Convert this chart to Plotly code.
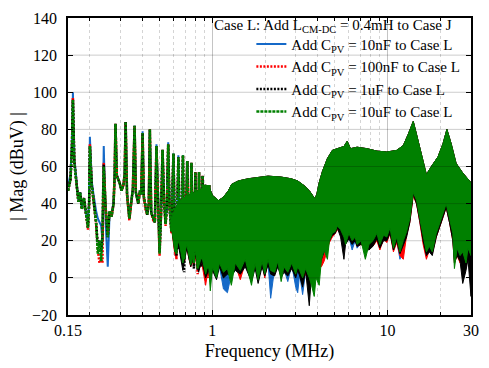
import plotly.graph_objects as go

# ---------------- low-frequency region (discrete switching harmonics), MHz / dBuV
low_freq = [0.150, 0.155, 0.158, 0.160, 0.163, 0.168, 0.172, 0.176, 0.180, 0.185, 0.189, 0.195, 0.198,
            0.200, 0.205, 0.209, 0.213, 0.217, 0.222, 0.227, 0.232, 0.236, 0.238, 0.240, 0.246, 0.253, 0.259, 0.266, 0.273, 0.277,
            0.280, 0.285, 0.296, 0.303, 0.311, 0.316,
            0.320, 0.326, 0.336, 0.345, 0.352,
            0.360, 0.366, 0.378, 0.386, 0.393,
            0.400, 0.406, 0.415, 0.425, 0.434,
            0.440, 0.448, 0.460, 0.470,
            0.480, 0.490, 0.500, 0.510,
            0.520, 0.530, 0.541, 0.550,
            0.560, 0.570, 0.584,
            0.600, 0.610, 0.624,
            0.640, 0.650, 0.666,
            0.680, 0.690, 0.705,
            0.720, 0.730, 0.745,
            0.760, 0.772, 0.785,
            0.800, 0.812, 0.825,
            0.840, 0.852, 0.865,
            0.880, 0.895, 0.905,
            0.920, 0.935, 0.945,
            0.960, 0.975]

low_blue = [49, 56, 74, 100, 65, 50, 42, 46, 38, 43, 36, 30, 42,
            76, 52, 46, 40, 36, 32, 30, 28, 20, 48, 71, 30, 6, 34, 34, 41, 56,
            83, 56, 51, 47, 50, 56,
            84, 46, 33, 42, 48,
            82, 46, 40, 47, 45,
            79, 44, 38, 35, 40,
            80, 36, 32, 30,
            72, 40, 15, 35,
            69, 42, 30, 38,
            73, 38, 26,
            67, 30, 15,
            66, 35, 16,
            66, 12, 30,
            63, 25, 13,
            62, 20, 9,
            57, 18, 6,
            57, 16, 11,
            55, 20, 11,
            50, 22, 6,
            50, 25]

low_red = [47, 53, 71, 97, 63, 50, 41, 45, 37, 43, 35, 26, 40,
           72, 50, 44, 36, 29, 15, 8, 10, 8, 46, 62, 38, 24, 35, 33, 40, 55,
           83, 55, 51, 47, 50, 56,
           84, 45, 31, 42, 48,
           82, 46, 40, 47, 45,
           78, 44, 37, 34, 40,
           80, 35, 31, 30,
           71, 40, 12, 35,
           69, 42, 28, 38,
           72, 38, 24,
           67, 30, 10,
           65, 35, 14,
           66, 9, 30,
           63, 24, 11,
           62, 19, 7,
           57, 17, 2,
           57, 14, 8,
           55, 18, 8,
           50, 20, 0,
           50, 24]

low_black = [47, 53, 70, 96, 62, 50, 41, 46, 37, 43, 35, 27, 40,
             71, 50, 44, 36, 30, 18, 20, 14, 22, 45, 61, 38, 22, 36, 33, 40, 55,
             83, 55, 51, 47, 50, 56,
             84, 45, 32, 42, 48,
             82, 46, 40, 47, 45,
             78, 44, 38, 34, 40,
             80, 35, 32, 30,
             71, 40, 14, 35,
             69, 42, 29, 38,
             72, 38, 25,
             67, 30, 12,
             65, 35, 14,
             66, 3, 30,
             63, 25, 10,
             62, 20, 5,
             57, 18, 4,
             57, 15, 6,
             55, 20, 8,
             50, 22, 3,
             50, 25]

low_green = [47, 53, 70, 96, 62, 50, 41, 46, 37, 43, 35, 27, 40,
             71, 50, 44, 36, 30, 13, 20, 9, 25, 45, 60, 38, 22, 36, 33, 40, 55,
             83, 55, 51, 47, 50, 56,
             84, 45, 32, 42, 48,
             82, 46, 40, 47, 45,
             78, 44, 38, 34, 40,
             80, 35, 32, 30,
             71, 40, 13, 35,
             69, 42, 29, 38,
             72, 38, 25,
             67, 30, 13,
             65, 35, 15,
             66, 10, 30,
             63, 25, 12,
             62, 20, 8,
             57, 18, 5,
             57, 15, 10,
             55, 20, 10,
             50, 22, 5,
             50, 25]

# ---------------- dense region: upper envelope (common to all four cases)
band_top_freq = [0.581, 0.612, 0.645, 0.679, 0.715, 0.753, 0.794, 0.836, 0.870, 0.904,
                 0.952, 1.003, 1.039, 1.085, 1.158, 1.236, 1.290, 1.407, 1.604, 1.826,
                 2.081, 2.473, 2.817, 3.073, 3.354, 3.579, 3.737, 3.850, 3.951, 4.077,
                 4.256, 4.542, 4.847, 5.172, 5.644, 5.892, 6.152, 6.711, 7.644, 8.705,
                 9.916, 11.30, 12.32, 13.15, 14.04, 14.65, 15.64, 16.69, 17.82, 19.44,
                 20.75, 21.86, 23.12, 24.66, 26.91, 30.0]
band_top = [31, 37, 41, 43, 44, 45, 46, 47, 48, 50,
            49.6, 44.4, 43, 41.7, 43.5, 47, 50.4, 52.2, 53.4, 53.9,
            54.8, 54.3, 53.4, 52.2, 49.6, 47, 44.4, 42.6, 45, 51.3,
            57.4, 64.3, 68.7, 69.6, 70.8, 73.6, 69.6, 70.4, 69.6, 68.3,
            67.8, 68.7, 71.3, 77.4, 84.3, 77.4, 67, 55.6, 60, 65.2,
            72.2, 80, 72.2, 61.7, 56.5, 51.3]

# ---------------- dense region: lower envelope of each case
band_bot_freq = [0.581, 0.612, 0.645, 0.679, 0.715, 0.753, 0.794, 0.836, 0.870, 0.916,
                 0.952, 0.974, 1.003, 1.057, 1.099, 1.158, 1.220, 1.285, 1.353, 1.445,
                 1.542, 1.674, 1.756, 1.826, 1.924, 1.992, 2.081, 2.154, 2.268, 2.368,
                 2.473, 2.562, 2.698, 2.843, 2.994, 3.073, 3.154, 3.279, 3.409, 3.579,
                 3.687, 3.819, 3.910, 4.077, 4.200, 4.350, 4.542, 4.661, 4.847, 5.040,
                 5.172, 5.399, 5.644, 5.763, 6.024, 6.290, 6.539, 6.711, 7.070, 7.478,
                 7.844, 8.264, 8.705, 9.053, 9.500, 9.916, 10.35, 10.82, 11.30, 11.79,
                 12.32, 12.87, 13.43, 14.04, 14.65, 15.30, 15.99, 16.69, 17.35, 18.04,
                 19.01, 20.03, 20.82, 21.65, 22.60, 23.62, 24.12, 24.99, 25.98, 26.91,
                 28.10, 28.83, 30.0]

bot_blue = [29, 16, 20, 10, 18, 9, 15, 8, 12, 4,
            8, 0, 6, 2, 6, -6, -8, 2, 6, 3,
            9, 0, 7, 2, 7, 1, 8, -11, 5, 8,
            2, 5, -2, 7, -5, -8, 2, -9, 3, 2,
            1, 4, 6, 8, 12, 16, 18, 21, 24, 25,
            27, 25, 22, 20, 22, 15, 20, 16, 19, 18,
            17, 18, 22, 16, 22, 20, 25, 15, 20, 10,
            18, 24, 31, 46, 41, 30, 20, 14, 16, 14,
            23, 29, 34, 38, 30, 22, 10, 14, 10, 12,
            6, 14, 10]

bot_red = [29, 12, 18, 8, 16, 6, 12, 4, 8, -4,
           6, -2, 5, 1, 7, 2, 4, 0, 7, -1,
           8, 1, 6, 1, 8, 0, 9, 3, 4, 7,
           3, 4, 2, 6, 1, 5, 3, -1, 2, -2,
           -1, 2, 4, 6, 6, 9, 15, 19, 22, 24,
           26, 24, 21, 19, 22, 19, 21, 17, 18, 17,
           16, 17, 20, 15, 21, 19, 24, 14, 19, 12,
           10, 23, 30, 44, 40, 30, 18, 10, 15, 13,
           22, 28, 33, 38, 30, 20, 8, 12, 8, 10,
           6, 12, 8]

bot_black = [29, 14, 16, 4, 16, 6, 14, 3, 10, 0,
             4, -1, 4, -1, 6, 0, 2, 1, 4, 2,
             6, -2, 5, -3, 6, 1, 7, 2, 1, 6,
             0, 3, 1, 5, 0, 4, 1, -5, 4, -15,
             2, 0, 2, 5, 10, 14, 16, 20, 23, 24,
             27, 22, 10, 18, 21, 18, 20, 17, 18, 16,
             15, 17, 21, 16, 20, 20, 24, 15, 20, 13,
             18, 22, 30, 45, 40, 31, 20, 12, 14, 12,
             22, 28, 33, 38, 30, 20, 8, 12, 9, -3,
             4, 10, -10]

bot_green = [29, 14, 20, 8, 18, 7, 15, 6, 12, 2,
             8, -7, 6, 0, 8, 3, 5, -4, 8, 4,
             10, -4, 8, -1, 9, 2, 10, 4, 3, 9,
             -2, 6, 3, 8, 2, 6, 4, 0, 5, 0,
             -4, -10, 0, -4, 10, 15, 10, 20, 24, 25,
             28, 26, 22, 18, 24, 20, 22, 18, 20, 10,
             18, 20, 24, 18, 23, 22, 27, 16, 22, 14,
             20, 25, 32, 46, 42, 32, 22, 14, 17, 14,
             24, 30, 35, 40, 32, 24, 5, 16, 12, 14,
             8, 16, 12]

x_tick_vals = [0.15, 1, 10, 30]
x_tick_text = ["0.15", "1", "10", "30"]
x_minor_vals = [0.2, 0.3, 0.4, 0.5, 0.6, 0.7, 0.8, 0.9, 2, 3, 4, 5, 6, 7, 8, 9, 20]
y_tick_vals = [-20, 0, 20, 40, 60, 80, 100, 120, 140]

for arr in (low_blue, low_red, low_black, low_green):
    assert len(arr) == len(low_freq)
for arr in (bot_blue, bot_red, bot_black, bot_green):
    assert len(arr) == len(band_bot_freq)
assert len(band_top) == len(band_top_freq)

series = [
    ("Add C<sub>PV</sub> = 10nF to Case L", "#1569c8", "solid", 2.0, low_blue, bot_blue),
    ("Add C<sub>PV</sub> = 100nF to Case L", "#ff0000", "2px,1.5px", 2.5, low_red, bot_red),
    ("Add C<sub>PV</sub> = 1uF to Case L", "#000000", "2px,1.5px", 2.5, low_black, bot_black),
    ("Add C<sub>PV</sub> = 10uF to Case L", "#008000", "3px,1px", 2.5, low_green, bot_green),
]

fig = go.Figure()
for i, (name, color, dash, width, low_vals, bot_vals) in enumerate(series):
    poly_x = band_top_freq + band_bot_freq[::-1]
    poly_y = band_top + bot_vals[::-1]
    fig.add_trace(go.Scatter(
        x=poly_x, y=poly_y, mode="lines", fill="toself", fillcolor=color,
        line=dict(color=color, width=1), legendgroup=f"g{i}", showlegend=False,
        hoverinfo="skip"))
    fig.add_trace(go.Scatter(
        x=low_freq, y=low_vals, mode="lines", name=name, legendgroup=f"g{i}",
        line=dict(color=color, width=width, dash=dash)))

shapes = []
for v in y_tick_vals[1:-1]:
    shapes.append(dict(type="line", xref="paper", x0=0, x1=1, yref="y", y0=v, y1=v,
                       line=dict(color="rgba(0,0,0,0.2)", width=1), layer="above"))

fig.update_layout(
    width=489, height=368,
    margin=dict(l=68, r=14, t=10, b=51),
    paper_bgcolor="white", plot_bgcolor="white",
    font=dict(family="Liberation Serif", color="black", size=15),
    showlegend=True,
    legend=dict(x=0.455, y=0.967, xanchor="left", yanchor="top",
                bgcolor="rgba(0,0,0,0)", font=dict(size=15), itemwidth=30,
                tracegroupgap=0),
    shapes=shapes,
    annotations=[dict(text="Case L: Add L<sub>CM-DC</sub> = 0.4mH to Case J",
                      xref="paper", yref="paper", x=0.958, y=0.974,
                      xanchor="right", yanchor="middle", showarrow=False,
                      font=dict(size=15))],
)

fig.update_xaxes(
    type="log", range=[-0.823909, 1.477121],
    tickmode="array", tickvals=x_tick_vals, ticktext=x_tick_text,
    ticks="inside", ticklen=5, tickcolor="black", tickwidth=1,
    showline=True, linecolor="black", linewidth=1.5, mirror="ticks",
    showgrid=True, gridcolor="#c4c4c4", gridwidth=1,
    minor=dict(tickvals=x_minor_vals, showgrid=True, gridcolor="#d4d4d4",
               griddash="dot", gridwidth=1, ticks="inside", ticklen=3,
               tickcolor="black"),
    tickfont=dict(size=16), zeroline=False,
    title=dict(text="Frequency (MHz)", font=dict(size=18), standoff=6),
)
fig.update_yaxes(
    range=[-20, 140], tickmode="array", tickvals=y_tick_vals,
    ticks="inside", ticklen=5, tickcolor="black", tickwidth=1,
    showline=True, linecolor="black", linewidth=1.5, mirror="ticks",
    showgrid=False, zeroline=False,
    tickfont=dict(size=16), ticklabelstandoff=6,
    title=dict(text="| Mag (dBuV) |", font=dict(size=18), standoff=4),
)

fig.write_html("out.html")
